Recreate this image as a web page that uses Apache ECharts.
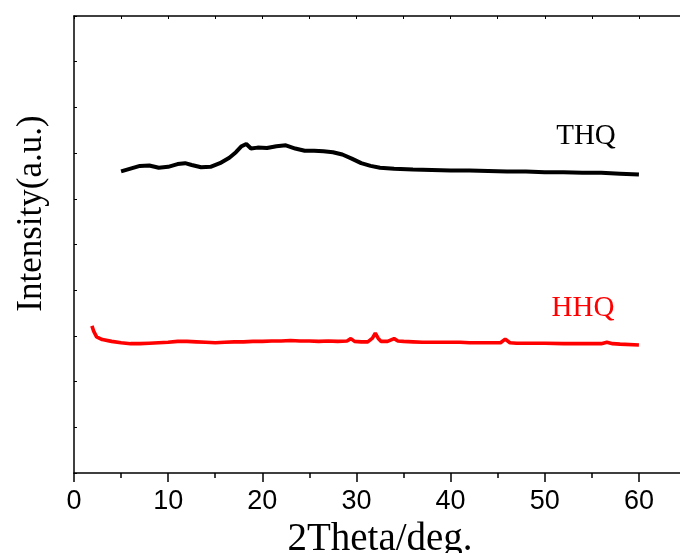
<!DOCTYPE html>
<html>
<head>
<meta charset="utf-8">
<script src="https://cdn.jsdelivr.net/npm/echarts@6/dist/echarts.min.js"></script>
<style>html,body{margin:0;padding:0;background:#fff;}#c{width:680px;height:553px;}</style>
</head>
<body>
<div id="c"></div>
<script>
var xTicks = [0, 10, 20, 30, 40, 50, 60];
var seriesNames = ['THQ', 'HHQ'];
var thqX = [5.0,6.0,7.0,8.0,9.0,10.0,11.0,11.8,12.5,13.5,14.5,15.5,16.5,17.2,17.8,18.3,18.8,19.5,20.5,21.5,22.5,23.5,24.5,25.5,26.5,27.5,28.5,29.5,30.5,31.5,32.5,34,36,38,40,42,44,46,48,50,52,54,56,58,60];
var thqY = [6.60,6.66,6.72,6.73,6.68,6.70,6.76,6.78,6.74,6.69,6.70,6.78,6.90,7.02,7.15,7.20,7.10,7.12,7.11,7.15,7.17,7.10,7.05,7.05,7.04,7.02,6.97,6.88,6.78,6.72,6.68,6.66,6.64,6.63,6.62,6.62,6.61,6.60,6.60,6.58,6.58,6.57,6.57,6.55,6.53];
var hhqX = [1.9,2.1,2.4,3.0,4.0,5.0,6.0,7.0,8.0,9.0,10,11,12,13,14,15,16,17,18,19,20,21,22,23,24,25,26,27,28,29.0,29.4,29.8,30.5,31.2,31.7,32.0,32.3,32.6,33.3,34.0,34.4,35,36,37,38,39,40,41,42,43,44,45.3,45.8,46.3,47,48,50,52,54,56,56.6,57.2,58,60];
var hhqY = [3.22,3.10,2.98,2.92,2.88,2.85,2.83,2.83,2.84,2.85,2.86,2.88,2.88,2.87,2.86,2.85,2.86,2.87,2.87,2.88,2.88,2.89,2.89,2.90,2.89,2.89,2.88,2.89,2.88,2.89,2.94,2.88,2.87,2.87,2.95,3.06,2.95,2.88,2.88,2.94,2.89,2.88,2.87,2.86,2.86,2.86,2.86,2.86,2.85,2.85,2.85,2.85,2.93,2.85,2.84,2.84,2.84,2.83,2.83,2.83,2.86,2.83,2.82,2.80];

function pairs(xs, ys){ return xs.map(function(x,i){ return [x, ys[i]]; }); }

var chart = echarts.init(document.getElementById('c'), null, {renderer:'canvas'});
var serif = 'Liberation Serif';
var sans = 'Liberation Sans';
chart.setOption({
  animation: false,
  backgroundColor: '#fff',
  grid: {left: 74, top: 16, width: 612, height: 457, containLabel: false, outerBoundsMode: 'none'},
  xAxis: [{
    type: 'value', min: 0, max: 65, interval: 10, position: 'bottom',
    axisLine: {show: true, onZero: false, lineStyle: {color: '#000', width: 1.5}},
    axisTick: {show: true, inside: false, length: 9, lineStyle: {color: '#000', width: 1.5}},
    minorTick: {show: true, splitNumber: 2, length: 5, lineStyle: {color: '#000', width: 1.5}},
    axisLabel: {show: true, margin: 15, color: '#000', fontFamily: sans, fontSize: 27, showMaxLabel: false,
      formatter: function(v){ return xTicks.indexOf(v) >= 0 ? String(v) : ''; }},
    splitLine: {show: false},
    name: '2Theta/deg.', nameLocation: 'middle', nameGap: 40,
    nameTextStyle: {color: '#000', fontFamily: serif, fontSize: 39}
  }, {
    type: 'value', min: 0, max: 65, interval: 5, position: 'top',
    axisLine: {show: true, onZero: false, lineStyle: {color: '#000', width: 1.5}},
    axisTick: {show: true, inside: true, length: 3, lineStyle: {color: '#000', width: 1}},
    axisLabel: {show: false}, splitLine: {show: false}
  }],
  yAxis: [{
    type: 'value', min: 0, max: 10, interval: 1, position: 'left',
    axisLine: {show: true, onZero: false, lineStyle: {color: '#000', width: 1.5}},
    axisTick: {show: true, inside: true, length: 3, lineStyle: {color: '#000', width: 1}},
    axisLabel: {show: false}, splitLine: {show: false},
    name: 'Intensity(a.u.)', nameLocation: 'middle', nameGap: 25,
    nameTextStyle: {color: '#000', fontFamily: serif, fontSize: 35, padding: [0, 0, 0, 62]}
  }],
  series: [{
    name: seriesNames[0], type: 'line', data: pairs(thqX, thqY), showSymbol: false, symbol: 'none',
    lineStyle: {color: '#000', width: 4}, smooth: false
  }, {
    name: seriesNames[1], type: 'line', data: pairs(hhqX, hhqY), showSymbol: false, symbol: 'none',
    lineStyle: {color: '#ff0000', width: 3.6}, smooth: false
  }],
  graphic: [
    {type: 'text', x: 586, y: 136, style: {text: seriesNames[0], fill: '#000', font: '29px "Liberation Serif"', align: 'center', verticalAlign: 'middle'}},
    {type: 'text', x: 583, y: 308, style: {text: seriesNames[1], fill: '#ff0000', font: '29px "Liberation Serif"', align: 'center', verticalAlign: 'middle'}}
  ]
});
</script>
</body>
</html>
